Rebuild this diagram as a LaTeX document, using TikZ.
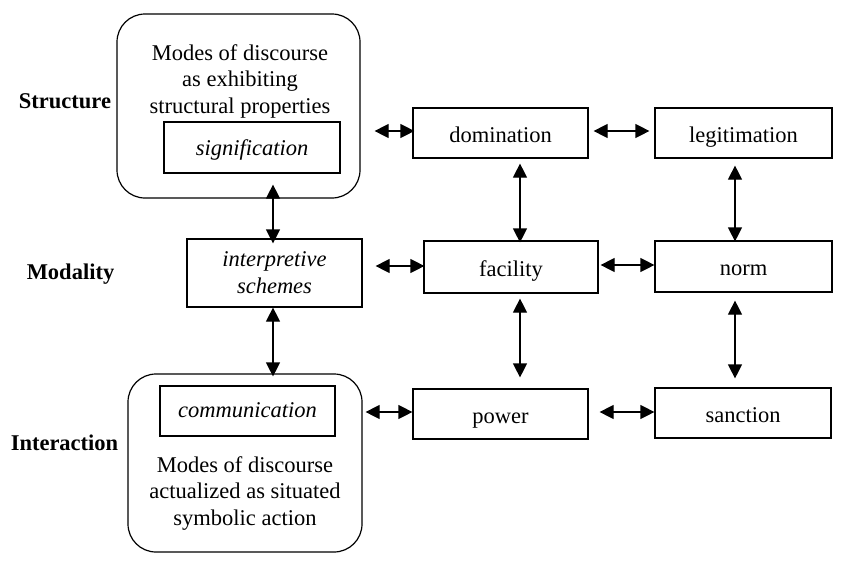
\documentclass[tikz,border=0pt]{standalone}
\usepackage{fontspec}
\setmainfont{Liberation Serif}
\usetikzlibrary{arrows.meta,calc}
\begin{document}
\begin{tikzpicture}[x=1pt,y=-1pt,
  every node/.style={font=\fontsize{22.5}{26.5}\selectfont, inner sep=0pt},
  box/.style={draw, line width=1.2pt, rectangle, minimum width=175pt, minimum height=50pt, text height=20pt, text depth=2pt},
  ibox/.style={box, text height=19pt, text depth=4pt, font=\fontsize{22.5}{26.5}\selectfont\itshape},
  rbox/.style={draw, line width=1.2pt, rectangle, rounded corners=28pt},
  lbl/.style={font=\fontsize{22.5}{26.5}\selectfont\bfseries},
  dbl/.style={line width=1.2pt, {Triangle[length=14pt,width=14pt]}-{Triangle[length=14pt,width=14pt]}}]
\useasboundingbox (0,0) rectangle (850,565);

% labels
\node[lbl, anchor=base] (lstruct) at (65,108) {Structure};
\node[lbl, anchor=base] (lmod) at (70.5,279) {Modality};
\node[lbl, anchor=base] (linter) at (64.5,450) {Interaction};

% structure rounded box
\node[rbox, minimum width=243pt, minimum height=184pt] (rb1) at (238.5,106) {};
\node[align=center, anchor=base] (t1) at (240,113) {Modes of discourse\\as exhibiting\\structural properties};
\node[ibox, minimum width=176pt, minimum height=51pt] (sig) at (252,147.5) {signification};

% modality
\node[draw, line width=1.2pt, minimum width=175pt, minimum height=68pt, align=center, font=\fontsize{22.5}{27}\selectfont\itshape] (interp) at (274.5,273) {interpretive\\schemes};

% interaction rounded box
\node[rbox, minimum width=234pt, minimum height=178pt] (rb2) at (245,463) {};
\node[ibox, text height=17pt, text depth=5pt] (comm) at (247.5,411) {communication};
\node[align=center, anchor=base] (t2) at (245,525) {Modes of discourse\\actualized as situated\\symbolic action};

% right grid
\node[box] (dom) at (500.5,133) {domination};
\node[box, minimum width=177pt] (legit) at (743.5,133) {legitimation};
\node[box, minimum width=174pt, minimum height=52pt] (fac) at (511,267) {facility};
\node[box, minimum width=177pt, minimum height=51pt] (norm) at (743.5,266.5) {norm};
\node[box] (power) at (500.5,414) {power};
\node[box, minimum width=176pt] (sanction) at (743,413) {sanction};

% vertical arrows
\draw[dbl] ($(interp.north |- rb1.south)+(-1.5,-14)$) -- ($(interp.north)+(-1.5,5)$);
\draw[dbl] ($(interp.south)+(-1.5,0)$) -- ($(interp.south |- rb2.north)+(-1.5,3)$);
\draw[dbl] ($(dom.south)+(19.5,5)$) -- ($(dom.south |- fac.north)+(19.5,2)$);
\draw[dbl] ($(legit.south)+(-8.5,7)$) -- ($(legit.south |- norm.north)+(-8.5,1)$);
\draw[dbl] ($(fac.south)+(9,5)$) -- ($(fac.south |- power.north)+(9,-11)$);
\draw[dbl] ($(norm.south)+(-8.5,8)$) -- ($(norm.south |- sanction.north)+(-8.5,-9)$);

% horizontal arrows
\draw[dbl] ($(rb1.east |- dom.west)+(14,-2)$) -- ($(dom.west)+(2,-2)$);
\draw[dbl] ($(interp.east |- fac.west)+(13,-1)$) -- ($(fac.west)+(1,-1)$);
\draw[dbl] ($(rb2.east |- power.west)+(3,-2)$) -- ($(power.west)+(0,-2)$);
\draw[dbl] ($(dom.east)+(5,-2)$) -- ($(legit.west |- dom.east)+(-5,-2)$);
\draw[dbl] ($(fac.east)+(2,-2)$) -- ($(norm.west |- fac.east)+(0,-2)$);
\draw[dbl] ($(power.east)+(11,-2)$) -- ($(sanction.west |- power.east)+(0,-2)$);
\end{tikzpicture}
\end{document}
